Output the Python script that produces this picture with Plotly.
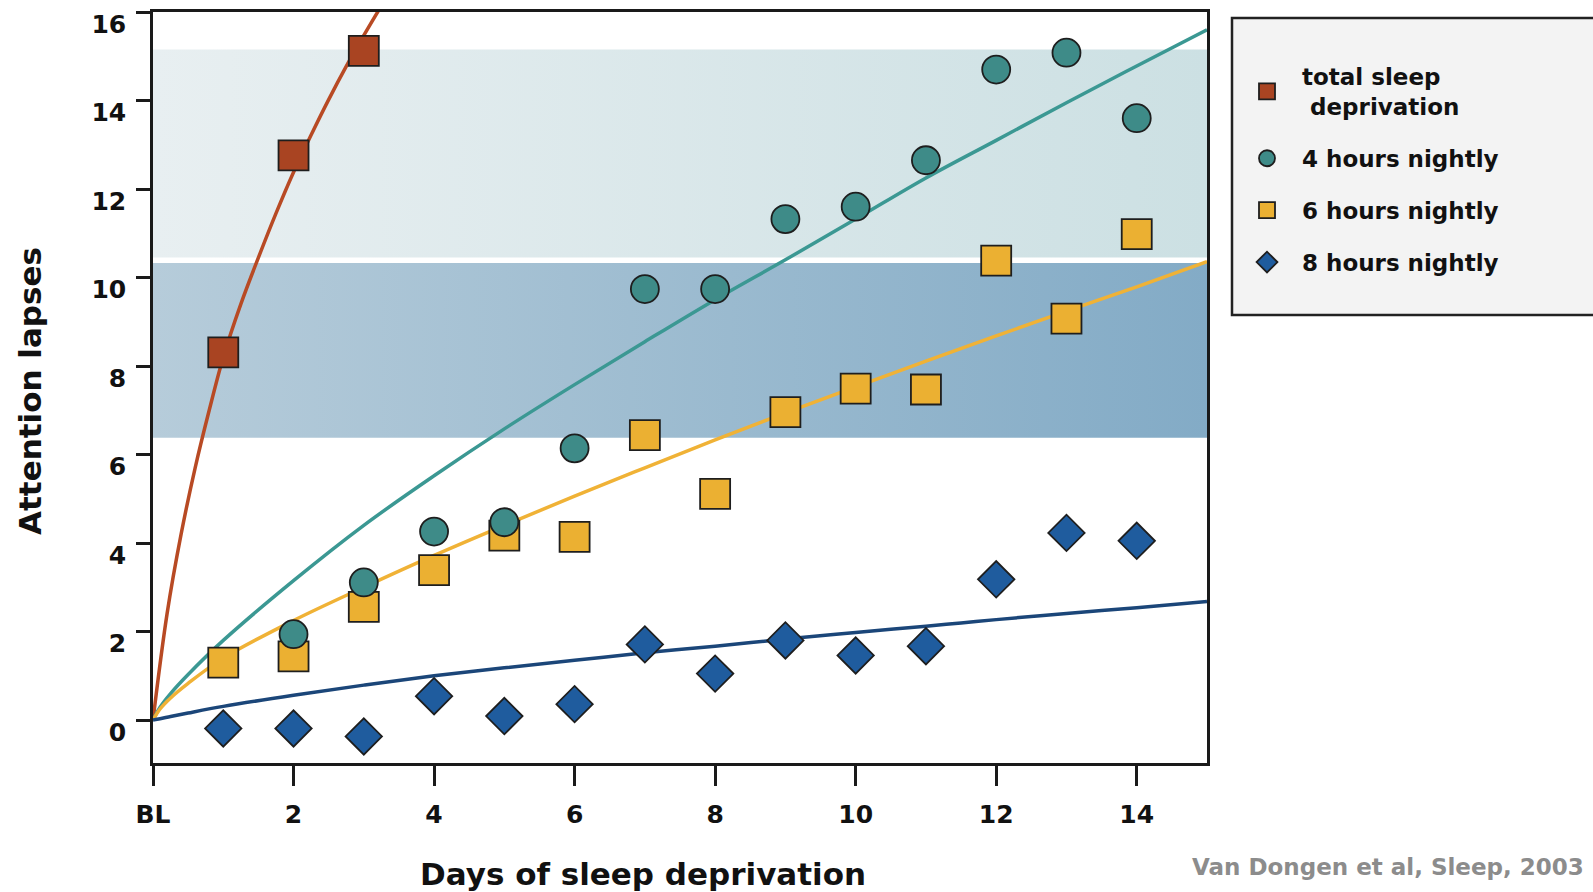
import plotly.graph_objects as go

# ---------------- data ----------------
total_days = [1, 2, 3]
total_vals = [8.31, 12.76, 15.12]

h4_days = [2, 3, 4, 5, 6, 7, 8, 9, 10, 11, 12, 13, 14]
h4_vals = [1.94, 3.11, 4.26, 4.47, 6.14, 9.74, 9.74, 11.32, 11.60, 12.65, 14.70, 15.08, 13.60]

h6_days = [1, 2, 3, 4, 5, 6, 7, 8, 9, 10, 11, 12, 13, 14]
h6_vals = [1.30, 1.44, 2.56, 3.39, 4.17, 4.14, 6.44, 5.11, 6.96, 7.49, 7.47, 10.38, 9.07, 10.98]

h8_days = [1, 2, 3, 4, 5, 6, 7, 8, 9, 10, 11, 12, 13, 14]
h8_vals = [-0.19, -0.19, -0.37, 0.54, 0.09, 0.36, 1.71, 1.05, 1.80, 1.46, 1.67, 3.18, 4.23, 4.05]

# fitted curves
fit_total_x = [0, 0.2, 0.4, 0.6, 0.8, 1.0, 1.25, 1.5, 1.75, 2.0, 2.25, 2.5, 2.75, 3.0, 3.25]
fit_total_y = [0, 2.4, 4.2, 5.7, 7.0, 8.2, 9.4, 10.45, 11.45, 12.38, 13.22, 14.02, 14.77, 15.47, 16.14]

fit_x = [0, 0.1, 0.25, 0.5, 1, 2, 3, 4, 5, 6, 7, 8, 9, 10, 11, 12, 13, 14, 15]
fit_h4 = [0, 0.29, 0.6, 1.03, 1.8, 3.15, 4.4, 5.52, 6.58, 7.58, 8.55, 9.5, 10.4, 11.32, 12.25, 13.1, 13.95, 14.78, 15.6]
fit_h6 = [0, 0.25, 0.5, 0.83, 1.4, 2.25, 3.0, 3.72, 4.4, 5.06, 5.70, 6.33, 6.94, 7.53, 8.11, 8.68, 9.24, 9.79, 10.36]
fit_h8 = [0, 0.03, 0.08, 0.16, 0.31, 0.56, 0.79, 1.0, 1.18, 1.35, 1.52, 1.67, 1.83, 1.98, 2.12, 2.27, 2.41, 2.54, 2.68]

# shaded bands (lower, upper) and x-extent
band_x = [0, 15]
band_low = [6.38, 10.45]
band_high = [10.33, 15.15]
band_colors = [["#b6ccda", "#83abc6"], ["#e8eff1", "#cce0e3"]]

x_tickvals = [0, 2, 4, 6, 8, 10, 12, 14]
x_ticktext = ["BL", "2", "4", "6", "8", "10", "12", "14"]
y_tickvals = [0, 2, 4, 6, 8, 10, 12, 14, 16]

FONT = "DejaVu Sans"

fig = go.Figure()

# bands with horizontal gradient
for lo, hi, cols in zip(band_low, band_high, band_colors):
    fig.add_trace(go.Scatter(
        x=[band_x[0], band_x[1], band_x[1], band_x[0], band_x[0]],
        y=[lo, lo, hi, hi, lo],
        mode="lines", line=dict(width=0), fill="toself",
        fillgradient=dict(type="horizontal", colorscale=[[0, cols[0]], [1, cols[1]]]),
        showlegend=False, hoverinfo="skip"))

# fitted curves
fig.add_trace(go.Scatter(x=fit_total_x, y=fit_total_y, mode="lines", line=dict(color="#b84a24", width=3.5, shape="spline"),
                         showlegend=False, hoverinfo="skip"))
fig.add_trace(go.Scatter(x=fit_x, y=fit_h4, mode="lines", line=dict(color="#3b9893", width=3.5, shape="spline"),
                         showlegend=False, hoverinfo="skip"))
fig.add_trace(go.Scatter(x=fit_x, y=fit_h6, mode="lines", line=dict(color="#f0b236", width=3.5, shape="spline"),
                         showlegend=False, hoverinfo="skip"))
fig.add_trace(go.Scatter(x=fit_x, y=fit_h8, mode="lines", line=dict(color="#1b4679", width=3.5, shape="spline"),
                         showlegend=False, hoverinfo="skip"))

mline = dict(color="#1e1e1e", width=1.8)
fig.add_trace(go.Scatter(x=h8_days, y=h8_vals, mode="markers", name="8 hours nightly",
                         marker=dict(symbol="diamond", size=28, color="#1f5c9e", line=mline),
                         legendgroup="d", legendrank=4))
fig.add_trace(go.Scatter(x=h6_days, y=h6_vals, mode="markers", name="6 hours nightly",
                         marker=dict(symbol="square", size=30, color="#ebb032", line=mline),
                         legendgroup="c", legendrank=3))
fig.add_trace(go.Scatter(x=h4_days, y=h4_vals, mode="markers", name="4 hours nightly",
                         marker=dict(symbol="circle", size=28, color="#3e8b88", line=mline),
                         legendgroup="b", legendrank=2))
fig.add_trace(go.Scatter(x=total_days, y=total_vals, mode="markers", name="total sleep<br>\u00a0deprivation",
                         marker=dict(symbol="square", size=30, color="#a94422", line=mline),
                         legendgroup="a", legendrank=1))

L, R, T, B = 153, 386, 12, 129
W, H = 1593, 892
pw = W - L - R
ph = H - T - B

def px_x(p):
    return (p - L) / pw

def px_y(p):
    return 1 - (p - T) / ph

# legend box
fig.add_shape(type="rect", xref="paper", yref="paper",
              x0=px_x(1232), x1=px_x(1620), y0=px_y(315), y1=px_y(18),
              fillcolor="#f3f3f3", line=dict(color="#222222", width=2.5), layer="below")

fig.add_annotation(text="Days of sleep deprivation", xref="paper", yref="paper",
                   x=px_x(643), y=px_y(874), xanchor="center", yanchor="middle", showarrow=False,
                   font=dict(family=FONT, size=31, color="#111111", weight="bold"))
fig.add_annotation(text="Attention lapses", xref="paper", yref="paper", textangle=-90,
                   x=px_x(30), y=px_y(391), xanchor="center", yanchor="middle", showarrow=False,
                   font=dict(family=FONT, size=31, color="#111111", weight="bold"))
fig.add_annotation(text="Van Dongen et al, Sleep, 2003", xref="paper", yref="paper",
                   x=px_x(1586), y=px_y(867), xanchor="right", yanchor="middle", showarrow=False,
                   font=dict(family=FONT, size=23, color="#8c8c8c", weight="bold"))

axis_common = dict(showline=True, linecolor="#1a1a1a", linewidth=2.5, mirror=True,
                   ticks="outside", tickcolor="#1a1a1a", tickwidth=2.5,
                   showgrid=False, zeroline=False, automargin=False,
                   ticklabeloverflow="allow",
                   tickfont=dict(family=FONT, size=25, color="#111111", weight="bold"))

fig.update_layout(
    width=W, height=H,
    margin=dict(l=L, r=R, t=T, b=B, pad=0, autoexpand=False),
    paper_bgcolor="white", plot_bgcolor="white",
    xaxis=dict(range=[0, 15], tickvals=x_tickvals, ticktext=x_ticktext, ticklen=20,
               ticklabelstandoff=7, **axis_common),
    yaxis=dict(range=[-0.97, 16.0], tickvals=y_tickvals, ticklen=14,
               ticklabelstandoff=5, ticklabelshift=12, **axis_common),
    legend=dict(x=px_x(1232), y=px_y(55), xanchor="left", yanchor="top",
                bgcolor="rgba(0,0,0,0)", borderwidth=0,
                traceorder="grouped", tracegroupgap=19, itemwidth=60,
                font=dict(family=FONT, size=23, color="#111111", weight="bold")),
    showlegend=True,
)

fig.write_html("out.html")
